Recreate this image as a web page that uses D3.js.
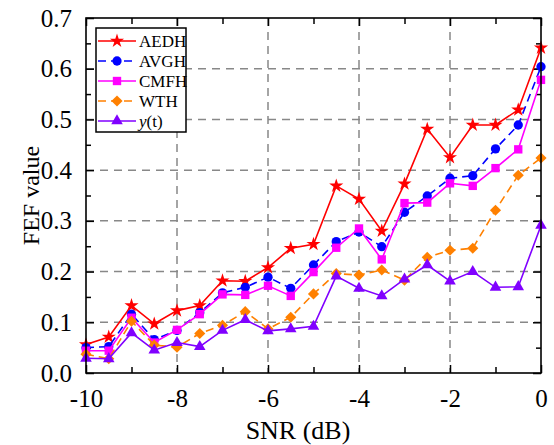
<!DOCTYPE html>
<meta charset="utf-8" />
<style>
  html, body { margin: 0; padding: 0; background: #fff; }
  #chart { width: 554px; height: 445px; }
  #chart text { font-family: 'Liberation Serif', 'Times New Roman', serif; fill: #000; }
</style>
<script src="https://d3js.org/d3.v7.min.js"></script>
<div id="chart"></div>
<script>
  // data
  const snr = [-10, -9.5, -9, -8.5, -8, -7.5, -7, -6.5, -6, -5.5, -5, -4.5, -4, -3.5, -3, -2.5, -2, -1.5, -1, -0.5, 0];
  const aedh = [0.056, 0.071, 0.133, 0.097, 0.123, 0.133, 0.182, 0.181, 0.208, 0.246, 0.254, 0.369, 0.343, 0.28, 0.373, 0.481, 0.425, 0.489, 0.489, 0.519, 0.641];
  const avgh = [0.05, 0.052, 0.116, 0.066, 0.084, 0.119, 0.158, 0.169, 0.189, 0.167, 0.213, 0.259, 0.278, 0.249, 0.317, 0.349, 0.384, 0.389, 0.442, 0.489, 0.604];
  const cmfh = [0.044, 0.044, 0.109, 0.06, 0.085, 0.116, 0.155, 0.154, 0.172, 0.152, 0.199, 0.247, 0.285, 0.224, 0.335, 0.336, 0.374, 0.369, 0.404, 0.441, 0.578];
  const wth = [0.037, 0.028, 0.102, 0.055, 0.051, 0.078, 0.094, 0.121, 0.087, 0.11, 0.156, 0.196, 0.193, 0.203, 0.183, 0.228, 0.242, 0.246, 0.321, 0.39, 0.424];
  const yt = [0.029, 0.028, 0.079, 0.045, 0.06, 0.052, 0.084, 0.105, 0.083, 0.087, 0.092, 0.191, 0.167, 0.152, 0.185, 0.213, 0.181, 0.2, 0.169, 0.17, 0.291];

  const xTicks = [-10, -8, -6, -4, -2, 0];
  const yTicks = [0, 0.1, 0.2, 0.3, 0.4, 0.5, 0.6, 0.7];

  const series = [
    { name: 'AEDH', values: aedh, color: '#ff0000', dash: null, symbol: d3.symbolStar, size: 62, rot: 0 },
    { name: 'AVGH', values: avgh, color: '#0000ff', dash: '8,5', symbol: d3.symbolCircle, size: 68, rot: 0 },
    { name: 'CMFH', values: cmfh, color: '#ff00ff', dash: null, symbol: d3.symbolSquare, size: 70, rot: 0 },
    { name: 'WTH', values: wth, color: '#ff8000', dash: '8,5', symbol: d3.symbolSquare, size: 62, rot: 45 },
    { name: 'y(t)', values: yt, color: '#8000ff', dash: null, symbol: d3.symbolTriangle, size: 58, rot: 0 },
  ];

  const margin = { top: 18, right: 13, bottom: 72, left: 86 };
  const W = 554, H = 445;
  const width = W - margin.left - margin.right;
  const height = H - margin.top - margin.bottom;

  const svg = d3.select('#chart').append('svg')
    .attr('width', W).attr('height', H);
  const g = svg.append('g')
    .attr('transform', 'translate(' + margin.left + ',' + margin.top + ')');

  const x = d3.scaleLinear().domain([-10, 0]).range([0, width]);
  const y = d3.scaleLinear().domain([0, 0.7]).range([height, 0]);

  // grid
  const gridStyle = (sel) => sel.attr('stroke', '#888').attr('stroke-width', 1.5).attr('stroke-dasharray', '8,6');
  g.selectAll('.gx').data([-8, -6, -4, -2]).enter().append('line')
    .attr('x1', (d) => x(d)).attr('x2', (d) => x(d))
    .attr('y1', 0).attr('y2', height).call(gridStyle);
  g.selectAll('.gy').data([0.1, 0.2, 0.3, 0.4, 0.5, 0.6]).enter().append('line')
    .attr('x1', 0).attr('x2', width)
    .attr('y1', (d) => y(d)).attr('y2', (d) => y(d)).call(gridStyle);

  // axes with inward ticks
  const xMinor = d3.range(-9, 0, 2);
  const yMinor = d3.range(0.05, 0.7, 0.1);
  function styleAxis(a) {
    a.select('.domain').remove();
    a.selectAll('line').attr('stroke', '#000').attr('stroke-width', 1.5);
    a.selectAll('text').attr('font-size', 25);
  }
  g.append('g').attr('transform', 'translate(0,' + height + ')')
    .call(d3.axisBottom(x).tickValues(xTicks).tickSize(-8).tickPadding(16).tickFormat((d) => String(d)))
    .call(styleAxis);
  g.append('g').attr('transform', 'translate(0,' + height + ')')
    .call(d3.axisBottom(x).tickValues(xMinor).tickSize(-6).tickFormat(''))
    .call(styleAxis);
  g.append('g')
    .call(d3.axisTop(x).tickValues(xTicks).tickSize(-8).tickFormat(''))
    .call(styleAxis);
  g.append('g')
    .call(d3.axisTop(x).tickValues(xMinor).tickSize(-6).tickFormat(''))
    .call(styleAxis);
  g.append('g')
    .call(d3.axisLeft(y).tickValues(yTicks).tickSize(-8).tickPadding(14).tickFormat(d3.format('.1f')))
    .call(styleAxis);
  g.append('g')
    .call(d3.axisLeft(y).tickValues(yMinor).tickSize(-5).tickFormat(''))
    .call(styleAxis);
  g.append('g').attr('transform', 'translate(' + width + ',0)')
    .call(d3.axisRight(y).tickValues(yTicks).tickSize(-8).tickFormat(''))
    .call(styleAxis);
  g.append('g').attr('transform', 'translate(' + width + ',0)')
    .call(d3.axisRight(y).tickValues(yMinor).tickSize(-5).tickFormat(''))
    .call(styleAxis);

  // series
  const line = d3.line().x((d, i) => x(snr[i])).y((d) => y(d));
  series.forEach(function (s) {
    g.append('path').datum(s.values)
      .attr('d', line)
      .attr('fill', 'none')
      .attr('stroke', s.color)
      .attr('stroke-width', 1.6)
      .attr('stroke-dasharray', s.dash);
    g.selectAll(null).data(s.values).enter().append('path')
      .attr('d', d3.symbol().type(s.symbol).size(s.size))
      .attr('transform', (d, i) => 'translate(' + x(snr[i]) + ',' + y(d) + ') rotate(' + s.rot + ')')
      .attr('fill', s.color);
  });

  // frame
  g.append('rect').attr('width', width).attr('height', height)
    .attr('fill', 'none').attr('stroke', '#000').attr('stroke-width', 1.6);

  // axis titles
  svg.append('text')
    .attr('x', 298).attr('y', 439)
    .attr('text-anchor', 'middle').attr('font-size', 26)
    .text('SNR (dB)');
  svg.append('text')
    .attr('transform', 'translate(39,' + (margin.top + height / 2) + ') rotate(-90)')
    .attr('text-anchor', 'middle').attr('font-size', 24)
    .text('FEF value');

  // legend
  const lg = svg.append('g').attr('transform', 'translate(96,28)');
  lg.append('rect').attr('width', 90).attr('height', 104)
    .attr('fill', '#fff').attr('stroke', '#000').attr('stroke-width', 1.5);
  series.forEach(function (s, i) {
    const yy = 13 + i * 20;
    lg.append('line').attr('x1', 2).attr('x2', 40).attr('y1', yy).attr('y2', yy)
      .attr('stroke', s.color).attr('stroke-width', 1.6).attr('stroke-dasharray', s.dash);
    lg.append('path').attr('d', d3.symbol().type(s.symbol).size(s.size))
      .attr('transform', 'translate(21,' + yy + ') rotate(' + s.rot + ')').attr('fill', s.color);
    const t = lg.append('text').attr('x', 43).attr('y', yy + 6).attr('font-size', 17);
    if (s.name === 'y(t)') {
      t.append('tspan').attr('font-style', 'italic').text('y');
      t.append('tspan').text('(t)');
    } else {
      t.text(s.name);
    }
  });
</script>
